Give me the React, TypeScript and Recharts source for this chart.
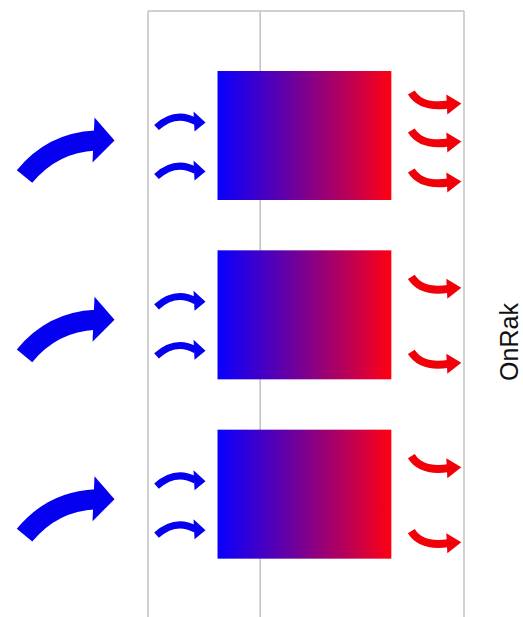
import React from "react";
import { BarChart, Bar, XAxis, YAxis, CartesianGrid, Label } from "recharts";

// three stages, each a floating bar (heat in on the left, heat out on the right)
const stages = ["1", "2", "3"];
const rangeStart = [22, 22, 22];
const rangeEnd = [77, 77, 77];
const arrowsIn = [2, 2, 2];
const arrowsOut = [3, 2, 2];
const xTicks = [0, 35.5, 100];
const axisTitle = "OnRak";

const data = stages.map((name, i) => ({
  name,
  range: [rangeStart[i], rangeEnd[i]],
  arrowsIn: arrowsIn[i],
  arrowsOut: arrowsOut[i],
}));

const BLUE = "#0500f0";
const RED = "#f00008";
const GRID = "#c2c2c2";

const inOffsets: Record<number, number[]> = { 1: [8], 2: [-13, 36], 3: [-25, 8, 40] };
const outOffsets: Record<number, number[]> = { 1: [8], 2: [-28, 47], 3: [-33, 5, 45] };

const BigArrow = ({ tx, ty }: { tx: number; ty: number }) => (
  <g>
    <path
      d={`M${tx - 90},${ty + 36} Q${tx - 62},${ty + 2} ${tx - 19},${ty}`}
      stroke={BLUE}
      strokeWidth={20}
      fill="none"
    />
    <polygon points={`${tx - 20},${ty - 23} ${tx},${ty} ${tx - 22},${ty + 22}`} fill={BLUE} />
  </g>
);

const SmallArrow = ({ tx, ty }: { tx: number; ty: number }) => (
  <g>
    <path
      d={`M${tx - 49},${ty + 5} Q${tx - 30},${ty - 12} ${tx - 10},${ty - 1}`}
      stroke={BLUE}
      strokeWidth={7}
      fill="none"
    />
    <polygon points={`${tx - 12},${ty - 11} ${tx},${ty} ${tx - 11},${ty + 9}`} fill={BLUE} />
  </g>
);

const OutArrow = ({ rx, ty }: { rx: number; ty: number }) => (
  <g>
    <path
      d={`M${rx + 20},${ty - 10} Q${rx + 30},${ty + 6} ${rx + 57},${ty + 2}`}
      stroke={RED}
      strokeWidth={8}
      fill="none"
    />
    <polygon points={`${rx + 55},${ty - 8} ${rx + 70},${ty + 1} ${rx + 56},${ty + 12}`} fill={RED} />
  </g>
);

const StageShape = (props: any) => {
  const { x, y, width, height, payload } = props;
  const cy = y + height / 2;
  const left = x;
  const right = x + width;
  const ins = inOffsets[payload.arrowsIn] || [];
  const outs = outOffsets[payload.arrowsOut] || [];
  return (
    <g>
      <BigArrow tx={left - 103} ty={cy + 5} />
      {ins.map((d, i) => (
        <SmallArrow key={`in-${i}`} tx={left - 12} ty={cy + d} />
      ))}
      <rect x={x} y={y} width={width} height={height} fill="url(#heatGrad)" />
      {outs.map((d, i) => (
        <OutArrow key={`out-${i}`} rx={right} ty={cy + d} />
      ))}
    </g>
  );
};

// ticks are kept (so the grid gets them) but draw nothing
const EmptyTick = () => <g />;

export default function App() {
  return (
    <div style={{ position: "absolute", left: 0, top: 0 }}>
      <BarChart
        width={523}
        height={617}
        data={data}
        layout="vertical"
        margin={{ top: 10, right: 0, left: 148, bottom: 0 }}
      >
        <defs>
          <linearGradient id="heatGrad" x1="0" y1="0" x2="1" y2="0">
            <stop offset="0%" stopColor="#0800ff" />
            <stop offset="45%" stopColor="#70009a" />
            <stop offset="80%" stopColor="#c8004a" />
            <stop offset="100%" stopColor="#ff0010" />
          </linearGradient>
        </defs>
        <CartesianGrid vertical horizontal={false} stroke={GRID} strokeWidth={1.5} />
        <XAxis
          type="number"
          orientation="top"
          domain={[0, 100]}
          ticks={xTicks}
          interval={0}
          tick={EmptyTick}
          tickLine={false}
          height={1}
          axisLine={{ stroke: GRID, strokeWidth: 1.5 }}
        />
        <YAxis
          type="category"
          dataKey="name"
          hide
          padding={{ top: 35, bottom: 33 }}
        />
        <YAxis
          yAxisId="title"
          type="category"
          dataKey="name"
          orientation="right"
          width={59}
          tick={false}
          tickLine={false}
          axisLine={false}
        >
          <Label
            content={({ viewBox }: any) => {
              const cx = viewBox.x + 45;
              const cyy = 342;
              return (
                <text
                  x={cx}
                  y={cyy}
                  transform={`rotate(-90, ${cx}, ${cyy})`}
                  textAnchor="middle"
                  dominantBaseline="central"
                  fontFamily="Liberation Sans, Arial, sans-serif"
                  fontSize={25}
                  fill="#111"
                >
                  {axisTitle}
                </text>
              );
            }}
          />
        </YAxis>
        <Bar dataKey="range" barSize={129} shape={<StageShape />} isAnimationActive={false} />
      </BarChart>
    </div>
  );
}
